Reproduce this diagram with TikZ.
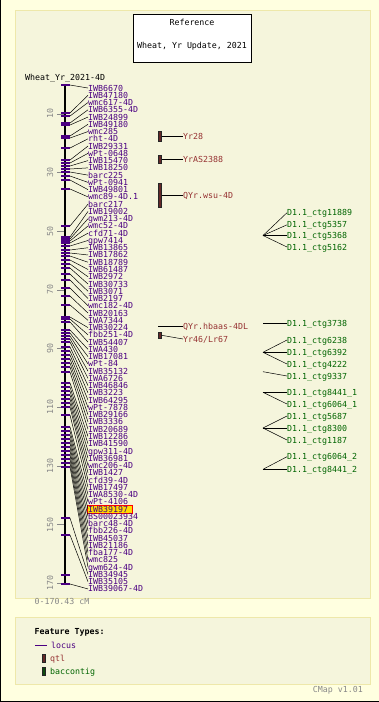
\documentclass[tikz,border=0pt]{standalone}
\usepackage{fontspec}
\setmonofont{DejaVu Sans Mono}
\usepackage{tikz}
\usetikzlibrary{calc}

\definecolor{outerbg}{RGB}{255,255,224}
\definecolor{panelbg}{RGB}{245,245,220}
\definecolor{panelrim}{RGB}{238,232,170}
\definecolor{locuscol}{RGB}{75,0,130}
\definecolor{qtlcol}{RGB}{150,50,50}
\definecolor{qtlfill}{RGB}{100,40,40}
\definecolor{baccol}{RGB}{0,100,0}
\definecolor{bacfill}{RGB}{15,75,15}
\definecolor{scalecol}{RGB}{136,136,136}
\definecolor{hiliteyel}{RGB}{255,220,0}

\tikzset{
  maptext/.style={font=\ttfamily\fontsize{8.3}{8.3}\selectfont, inner sep=0pt,
    text height=6pt, text depth=0pt, anchor=west},
  locuslabel/.style={maptext, text=locuscol},
  qtllabel/.style={maptext, text=qtlcol},
  baclabel/.style={maptext, text=baccol},
  scalelabel/.style={maptext, anchor=center, text=scalecol, rotate=90},
  leader/.style={black, line width=0.5pt},
  locustick/.style={locuscol, line width=1.5pt},
  qtlbar/.style={rectangle, fill=qtlfill, draw=black!85, line width=0.4pt,
    minimum width=3.5pt, inner sep=0pt},
  bacbar/.style={rectangle, fill=bacfill, draw=black!85, line width=0.4pt,
    minimum width=3.5pt, minimum height=7.5pt, inner sep=0pt},
}

\begin{document}
\begin{tikzpicture}[x=1pt, y=-1pt]
\useasboundingbox (0,0) rectangle (379,702);
\fill[outerbg] (0,0) rectangle (379,702);
\draw[black] (0.5,0) -- (0.5,701.5) -- (379,701.5);
\draw[fill=panelbg, draw=panelrim] (15,10) rectangle (370,598);
\draw[fill=panelbg, draw=panelrim] (15,617) rectangle (370,684);

\node[draw=black, fill=white, line width=0.6pt, minimum width=118pt, minimum height=48pt,
  inner sep=0pt] (titlebox) at (192,38) {};
\node[maptext, anchor=center] (reftitle) at (192,22.5) {Reference};
\node[maptext, anchor=center] (mapset) at (192,45.5) {Wheat, Yr Update, 2021};

\node[maptext] (mapname) at (25,77.5) {Wheat\_Yr\_2021-4D};

\foreach \v in {10,30,...,170}{
  \pgfmathsetmacro\ty{84.5+2.935*\v}
  \draw[scalecol, line width=0.6pt] (57,\ty) -- (65,\ty);
  \node[scalelabel] (scale\v) at (50,\ty) {\v};
}
\node[maptext, anchor=center, text=scalecol] (range) at (62,601.7) {0-170.43 cM};

\draw[black, line width=2pt] (65,84.5) -- (65,584.8);

\node[fill=hiliteyel, draw=red, line width=0.6pt, minimum width=45pt, minimum height=7.8pt,
  inner sep=0pt, anchor=west] (hilite) at (87,509.5) {};

\foreach \i/\name/\loc in {
  1/IWB6670/85, 2/IWB47180/113, 3/wmc617-4D/116, 4/IWB6355-4D/123,
  5/IWB24899/125, 6/IWB49180/136, 7/wmc285/138, 8/rht-4D/148,
  9/IWB29331/160, 10/wPt-0648/163, 11/IWB15470/166, 12/IWB18250/169,
  13/barc225/172, 14/wPt-0941/176, 15/IWB49801/180, 16/wmc89-4D.1/189,
  17/barc217/226, 18/IWB19002/237, 19/gwm213-4D/239, 20/wmc52-4D/241,
  21/cfd71-4D/243, 22/gpw7414/246, 23/IWB13865/250, 24/IWB17862/253,
  25/IWB18789/256, 26/IWB61487/260, 27/IWB2972/264, 28/IWB30733/268,
  29/IWB3071/274, 30/IWB2197/280, 31/wmc182-4D/288, 32/IWB20163/296,
  33/IWA7344/305, 34/IWB30224/317, 35/fbb251-4D/319, 36/IWB54407/322,
  37/IWA430/330, 38/IWB17081/333, 39/wPt-84/336, 40/IWB35132/339,
  41/IWA6726/342, 42/IWB46846/347, 43/IWB3223/351, 44/IWB64295/355,
  45/wPt-7878/359, 46/IWB29166/363, 47/IWB3336/367, 48/IWB20689/372,
  49/IWB12286/383, 50/IWB41590/387, 51/gpw311-4D/391, 52/IWB36981/395,
  53/wmc206-4D/399, 54/IWB1427/403, 55/cfd39-4D/407, 56/IWB17497/415,
  57/IWA8530-4D/427, 58/wPt-4106/431, 59/IWB39197/435, 60/BS00023934/439,
  61/barc48-4D/443, 62/fbb226-4D/447, 63/IWB45037/451, 64/IWB21186/455,
  65/fba177-4D/459, 66/wmc825/463, 67/gwm624-4D/467, 68/IWB34945/518,
  69/IWB35105/535, 70/IWB39067-4D/584}{
  \coordinate (loc\i) at (70,\loc);
  \draw[locustick] (61,\loc) -- (70,\loc);
  \node[locuslabel] (lab\i) at (88,{88+(\i-1)*7.26}) {\name};
  \draw[leader] (loc\i) -- (lab\i.west);
}
\draw[locustick] (61,575) -- (70,575);

\node[qtlbar, minimum height=10pt] (bar1) at (159.75,136) {};
\node[qtllabel] (yr28) at (183,136) {Yr28};
\draw[leader] (bar1.east) -- (yr28.west);
\node[qtlbar, minimum height=8pt] (bar2) at (159.75,159) {};
\node[qtllabel] (yras) at (183,159) {YrAS2388};
\draw[leader] (bar2.east) -- (yras.west);
\node[qtlbar, minimum height=24pt] (bar3) at (159.75,195) {};
\node[qtllabel] (qyrwsu) at (183,195) {QYr.wsu-4D};
\draw[leader] (bar3.east) -- (qyrwsu.west);
\coordinate (bar4) at (158,326.5);
\node[qtllabel] (qyrhb) at (183,326.5) {QYr.hbaas-4DL};
\draw[leader] (bar4) -- (qyrhb.west);
\node[qtlbar, minimum height=6.5pt] (bar5) at (159.75,335.3) {};
\node[qtllabel] (yr46) at (183,339) {Yr46/Lr67};
\draw[leader] (bar5.east) -- (yr46.west);

\coordinate (hub1) at (263,235.5);
\coordinate (hub2) at (263,323.3);
\coordinate (hub3) at (263,352.3);
\coordinate (hub4) at (263,371.7);
\coordinate (hub5) at (263,392.3);
\coordinate (hub6) at (263,428);
\coordinate (hub7) at (263,469.3);
\foreach \h/\ctg/\ly in {
  1/11889/212.7, 1/5357/224.8, 1/5368/235.5, 1/5162/247,
  2/3738/323.3,
  3/6238/340, 3/6392/352.3, 3/4222/364,
  4/9337/376,
  5/8441\_1/392.3, 5/6064\_1/404,
  6/5687/416, 6/8300/428, 6/1187/440,
  7/6064\_2/456.7, 7/8441\_2/469.3}{
  \node[baclabel] (ctg) at (287,\ly) {D1.1\_ctg\ctg};
  \draw[leader] (hub\h) -- (ctg.west);
}

\node[maptext, font=\ttfamily\bfseries\fontsize{8.3}{8.3}\selectfont] (legtitle) at (34.5,631.7) {Feature Types:};
\coordinate (legline) at (35,645);
\node[locuslabel] (leglocus) at (51,645) {locus};
\draw[locuscol, line width=0.8pt] (legline) -- ($(leglocus.west)+(-4,0)$);
\node[qtlbar, minimum height=7.5pt] (legqtlbar) at (43.7,658) {};
\node[qtllabel] (legqtl) at (50,658) {qtl};
\node[bacbar] (legbacbar) at (43.7,671) {};
\node[baclabel] (legbac) at (50,671) {baccontig};

\node[maptext, anchor=east, text=scalecol] (version) at (363,689) {CMap v1.01};
\end{tikzpicture}
\end{document}
